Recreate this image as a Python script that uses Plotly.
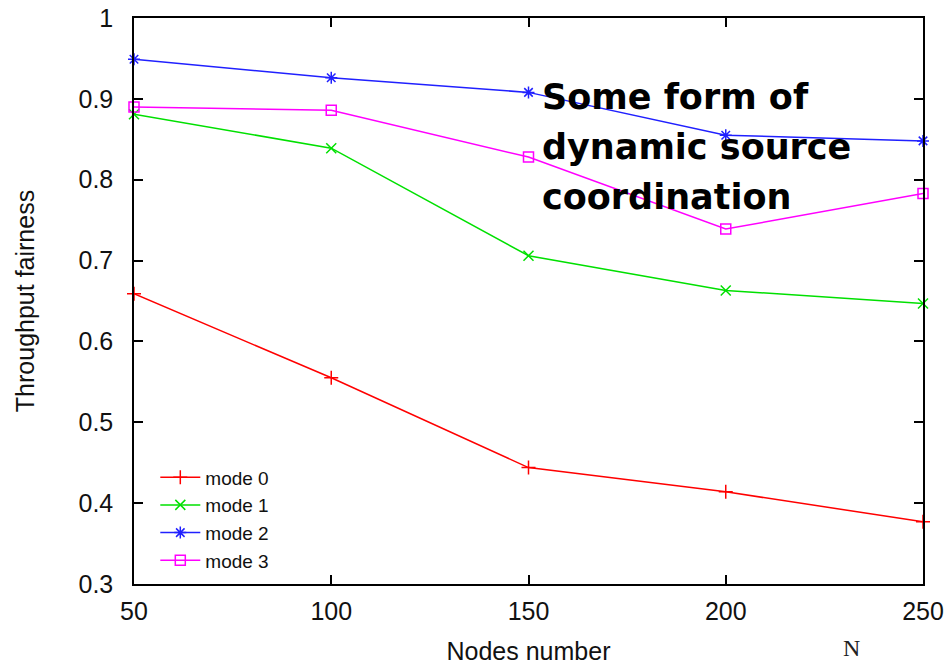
import plotly.graph_objects as go

nodes = [50, 100, 150, 200, 250]
mode0 = [0.659, 0.555, 0.444, 0.414, 0.377]
mode1 = [0.881, 0.839, 0.706, 0.663, 0.647]
mode2 = [0.949, 0.926, 0.908, 0.855, 0.848]
mode3 = [0.890, 0.886, 0.828, 0.739, 0.783]

series = [
    ("mode 0", mode0, "#ff0000", "cross-thin"),
    ("mode 1", mode1, "#00e000", "x-thin"),
    ("mode 2", mode2, "#2020ff", "asterisk"),
    ("mode 3", mode3, "#ff00ff", "square-open"),
]

x_ticks = [50, 100, 150, 200, 250]
y_ticks = [0.3, 0.4, 0.5, 0.6, 0.7, 0.8, 0.9, 1.0]
y_labels = ["0.3", "0.4", "0.5", "0.6", "0.7", "0.8", "0.9", "1"]

fig = go.Figure()
for name, vals, color, sym in series:
    fig.add_trace(go.Scatter(
        x=nodes, y=vals, name=name, mode="lines+markers",
        line=dict(color=color, width=1.5),
        marker=dict(symbol=sym, size=10, color=color,
                    line=dict(color=color, width=1.5)),
        cliponaxis=False,
    ))

axis_font = dict(family="Liberation Sans, Arial, sans-serif", size=25, color="#111")

fig.update_layout(
    width=951, height=665,
    margin=dict(l=134, r=28, t=18, b=81),
    paper_bgcolor="white", plot_bgcolor="white",
    showlegend=True,
    legend=dict(x=0.027, y=0.222, xanchor="left", yanchor="top",
                bgcolor="rgba(0,0,0,0)",
                font=dict(family="Liberation Sans, Arial, sans-serif", size=19, color="#111"),
                tracegroupgap=0, itemwidth=40),
    xaxis=dict(range=[50, 250], tickvals=x_ticks, ticks="inside", ticklen=9,
               tickwidth=1.5, tickcolor="black", showline=True, linecolor="black",
               linewidth=1.5, mirror="ticks", showgrid=False, zeroline=False,
               tickfont=axis_font, ticklabelstandoff=4, automargin=False,
               title=dict(text="Nodes number", font=axis_font, standoff=24)),
    yaxis=dict(range=[0.3, 1.0], tickvals=y_ticks, ticktext=y_labels, ticks="inside",
               ticklen=9, tickwidth=1.5, tickcolor="black", showline=True,
               linecolor="black", linewidth=1.5, mirror="ticks", showgrid=False,
               zeroline=False, tickfont=axis_font, ticklabelstandoff=14, automargin=False,
               title=dict(text="Throughput fairness", font=axis_font, standoff=37)),
)

note_font = dict(family="DejaVu Sans, sans-serif", size=35, color="black")
for txt, yp in [("<b>Some form of</b>", 0.860), ("<b>dynamic source</b>", 0.772),
                ("<b>coordination</b>", 0.684)]:
    fig.add_annotation(text=txt, xref="paper", yref="paper", x=0.514, y=yp,
                       xanchor="left", yanchor="middle", showarrow=False, font=note_font)

fig.add_annotation(text="N", xref="paper", yref="paper", x=0.91, y=-0.139,
                   xanchor="center", yanchor="bottom", showarrow=False,
                   font=dict(family="Liberation Serif, serif", size=24, color="#222"))

fig.write_html("out.html")
